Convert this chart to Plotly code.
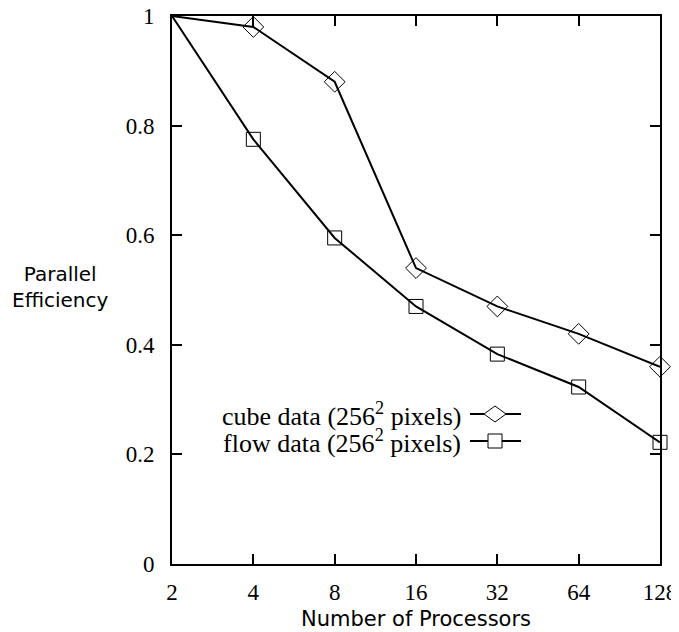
import plotly.graph_objects as go

processors = [2, 4, 8, 16, 32, 64, 128]
cube_eff = [1.0, 0.98, 0.88, 0.54, 0.47, 0.42, 0.36]
flow_eff = [1.0, 0.775, 0.595, 0.47, 0.383, 0.323, 0.222]
x_ticks = [2, 4, 8, 16, 32, 64, 128]
x_tick_labels = ["2", "4", "8", "16", "32", "64", "128"]
y_ticks = [0, 0.2, 0.4, 0.6, 0.8, 1.0]
y_tick_labels = ["0", "0.2", "0.4", "0.6", "0.8", "1"]
series_names = ["cube data (256<sup>2</sup> pixels)", "flow data (256<sup>2</sup> pixels)"]

SERIF = "Liberation Serif, DejaVu Serif, serif"
SANS = "DejaVu Sans, sans-serif"

fig = go.Figure()
fig.add_trace(go.Scatter(x=processors, y=cube_eff, mode="lines+markers",
                         line=dict(color="black", width=2),
                         marker=dict(symbol="diamond-open", size=16, color="black", line=dict(width=1)),
                         cliponaxis=False, showlegend=False))
fig.add_trace(go.Scatter(x=processors, y=flow_eff, mode="lines+markers",
                         line=dict(color="black", width=2),
                         marker=dict(symbol="square-open", size=14, color="black", line=dict(width=1)),
                         cliponaxis=False, showlegend=False))

# page offset from default body margin
OFF = 8
PL, PR, PT, PB = 172, 660, 16, 564   # plot box in page pixels
W, H = 679 - OFF, 632 - OFF
L, R, T, B = PL - OFF, 679 - PR, PT - OFF, 632 - PB
pw, ph = PR - PL, PB - PT

def px(x):
    return (x - PL) / pw

def py(y):
    return (PB - y) / ph

legend_rows = [(414, "diamond"), (441, "square")]
for (yy, sym), name in zip(legend_rows, series_names):
    fig.add_annotation(x=px(463), y=py(yy), xref="paper", yref="paper", text=name,
                       showarrow=False, xanchor="right", yanchor="middle",
                       font=dict(family=SERIF, size=26, color="black"))
    fig.add_shape(type="line", xref="paper", yref="paper", x0=px(470), x1=px(521),
                  y0=py(yy), y1=py(yy), line=dict(color="black", width=2))
    cx, cy = 495, yy
    if sym == "diamond":
        path = f"M {px(cx-11)},{py(cy)} L {px(cx)},{py(cy-8)} L {px(cx+11)},{py(cy)} L {px(cx)},{py(cy+8)} Z"
        fig.add_shape(type="path", xref="paper", yref="paper", path=path,
                      fillcolor="white", line=dict(color="black", width=1))
    else:
        fig.add_shape(type="rect", xref="paper", yref="paper", x0=px(cx-7), x1=px(cx+7),
                      y0=py(cy+7), y1=py(cy-7), fillcolor="white", line=dict(color="black", width=1))

fig.add_annotation(x=px(60), y=py(287), xref="paper", yref="paper",
                   text="Parallel<br>Efficiency", showarrow=False, xanchor="center", yanchor="middle",
                   align="center", font=dict(family=SANS, size=20, color="black"))
fig.add_annotation(x=0.5, y=py(619), xref="paper", yref="paper",
                   text="Number of Processors", showarrow=False, xanchor="center", yanchor="middle",
                   font=dict(family=SANS, size=21, color="black"))

axis_common = dict(ticks="inside", ticklen=10, tickwidth=2, tickcolor="black",
                   showline=True, linecolor="black", linewidth=2, mirror="allticks",
                   showgrid=False, zeroline=False, automargin=False, ticklabeloverflow="allow",
                   tickfont=dict(family=SERIF, size=23, color="black"))
fig.update_xaxes(type="log", range=[0.30103, 2.10721], tickvals=x_ticks, ticktext=x_tick_labels,
                 ticklabelstandoff=6, **axis_common)
fig.update_yaxes(range=[0, 1], tickvals=y_ticks, ticktext=y_tick_labels,
                 ticklabelstandoff=11, **axis_common)

fig.update_layout(width=W, height=H, margin=dict(l=L, r=R, t=T, b=B, autoexpand=False),
                  plot_bgcolor="white", paper_bgcolor="white", showlegend=False)

fig.write_html("out.html")
